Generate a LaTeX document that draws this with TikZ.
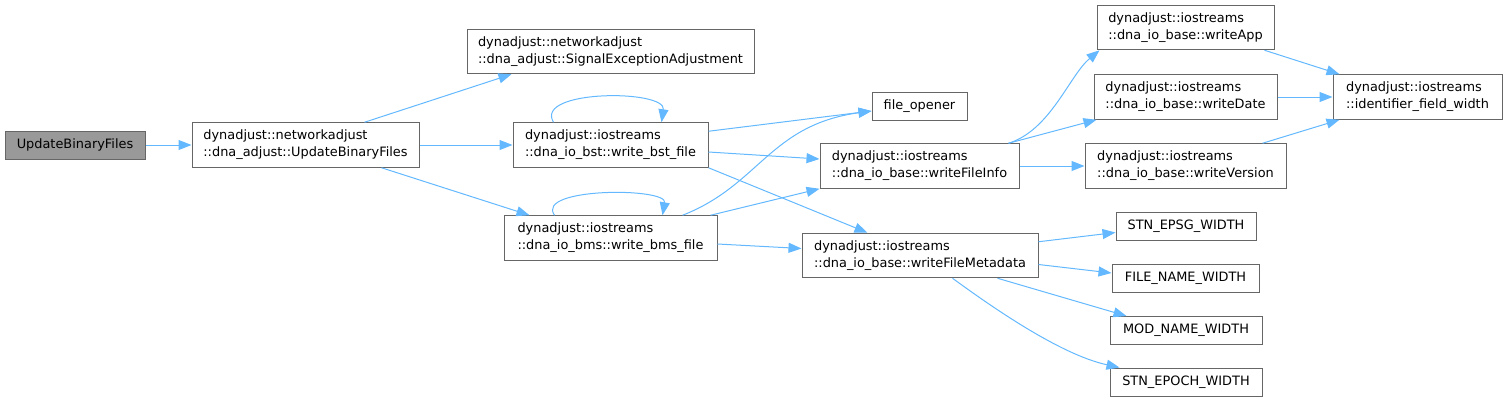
\documentclass[tikz,border=0pt]{standalone}
\usepackage{fontspec}
\setmainfont{DejaVu Sans}
\usetikzlibrary{arrows.meta}
\definecolor{edgeblue}{HTML}{63B8FF}
\definecolor{boxgray}{HTML}{666666}
\definecolor{rootgray}{HTML}{999999}

\begin{document}
\begin{tikzpicture}[x=1pt,y=-1pt,>={Triangle[length=13pt,width=10pt]},
  fn/.style={draw=boxgray,line width=1pt,fill=white,inner sep=0pt,minimum height=44.5pt,align=left,font=\fontsize{12.9}{17}\selectfont},
  leaf/.style={fn,minimum height=28pt},
  call/.style={->,draw=edgeblue,line width=1pt}]
  \useasboundingbox (0,0) rectangle (1507,402);
  \node[leaf,fill=rootgray,minimum width=140pt] (root) at (75,145) {UpdateBinaryFiles};
  \node[fn,minimum width=227pt] (upd) at (305.5,145) {dynadjust::networkadjust\\::dna\_adjust::UpdateBinaryFiles};
  \node[fn,minimum width=287pt] (sig) at (610.5,51.5) {dynadjust::networkadjust\\::dna\_adjust::SignalExceptionAdjustment};
  \node[fn,minimum width=195pt] (bst) at (610.5,145) {dynadjust::iostreams\\::dna\_io\_bst::write\_bst\_file};
  \node[fn,minimum width=213pt] (bms) at (610.5,238) {dynadjust::iostreams\\::dna\_io\_bms::write\_bms\_file};
  \node[leaf,minimum width=95pt] (fop) at (919.5,106) {file\_opener};
  \node[fn,minimum width=199pt] (finfo) at (919.5,166) {dynadjust::iostreams\\::dna\_io\_base::writeFileInfo};
  \node[fn,minimum width=236pt] (fmeta) at (920,255.5) {dynadjust::iostreams\\::dna\_io\_base::writeFileMetadata};
  \node[fn,minimum width=177pt] (app) at (1185.5,27.5) {dynadjust::iostreams\\::dna\_io\_base::writeApp};
  \node[fn,minimum width=183pt] (date) at (1185.5,97) {dynadjust::iostreams\\::dna\_io\_base::writeDate};
  \node[fn,minimum width=201pt] (ver) at (1185.5,166) {dynadjust::iostreams\\::dna\_io\_base::writeVersion};
  \node[fn,minimum width=169pt] (idw) at (1417.5,97) {dynadjust::iostreams\\::identifier\_field\_width};
  \node[leaf,minimum width=140pt] (epsg) at (1186,226.5) {STN\_EPSG\_WIDTH};
  \node[leaf,minimum width=147pt] (fname) at (1185.5,278) {FILE\_NAME\_WIDTH};
  \node[leaf,minimum width=152pt] (modn) at (1186,330.5) {MOD\_NAME\_WIDTH};
  \node[leaf,minimum width=152pt] (epoch) at (1186,382) {STN\_EPOCH\_WIDTH};

  % calls out of UpdateBinaryFiles
  \draw[call] (root) -- (upd);
  \draw[call] ([xshift=173pt]upd.north west) -- ([xshift=45pt]sig.south west);
  \draw[call] (upd) -- (bst);
  \draw[call] ([xshift=190pt]upd.south west) -- ([xshift=26pt]bms.north west);

  % writers
  \draw[call] ([xshift=41pt]bst.north west) .. controls +(-20,-33) and +(5,-33) .. ([xshift=149pt]bst.north west);
  \draw[call] ([xshift=51pt]bms.north west) .. controls +(-20,-28) and +(5,-28) .. ([xshift=159pt]bms.north west);
  \draw[call] ([yshift=-9pt]bst.north east) -- ([yshift=-5pt]fop.west);
  \draw[call] ([yshift=-7pt]bst.east) -- ([yshift=7pt]finfo.west);
  \draw[call] (bst.south east) -- ([xshift=66pt]fmeta.north west);
  \draw[call] ([xshift=179pt]bms.north west) .. controls +(77,-30) and +(-102,14) .. ([yshift=-5pt]fop.west);
  \draw[call] ([xshift=-7pt]bms.north east) -- (finfo.south west);
  \draw[call] ([yshift=-6pt]bms.east) -- ([yshift=7pt]fmeta.west);

  % file info
  \draw[call] ([xshift=-11pt]finfo.north east) .. controls +(42,-13) and +(-30,25) .. ([xshift=3pt]app.south west);
  \draw[call] ([xshift=-11pt]finfo.north east) -- ([xshift=3pt]date.south west);
  \draw[call] (finfo) -- (ver);
  \draw[call] ([xshift=-10pt]app.south east) -- ([xshift=7pt]idw.north west);
  \draw[call] (date) -- (idw);
  \draw[call] ([xshift=178pt]ver.north west) -- ([xshift=7pt]idw.south west);

  % metadata widths
  \draw[call] ([yshift=-9pt]fmeta.north east) -- ([yshift=-6pt]epsg.west);
  \draw[call] ([yshift=-9pt]fmeta.east) -- ([yshift=5pt]fname.west);
  \draw[call] ([xshift=196pt]fmeta.south west) -- ([xshift=17pt]modn.north west);
  \draw[call] ([xshift=151pt]fmeta.south west) .. controls +(37,27) and +(-60,-13) .. ([xshift=10pt]epoch.north west);
\end{tikzpicture}
\end{document}
